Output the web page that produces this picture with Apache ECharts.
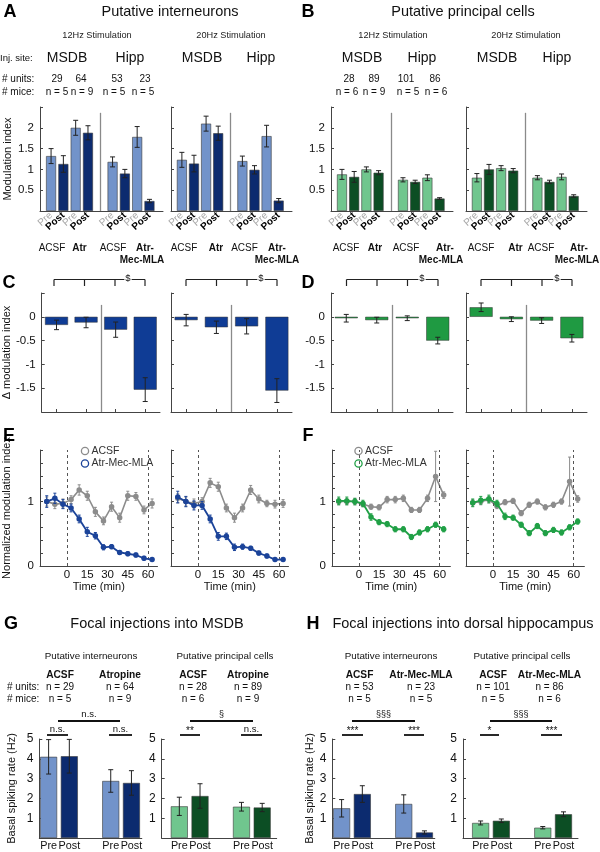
<!DOCTYPE html>
<html><head><meta charset="utf-8">
<script src="https://cdn.jsdelivr.net/npm/echarts@6/dist/echarts.min.js"></script>
<style>html,body{margin:0;padding:0;background:#fff}#c{width:600px;height:852px}</style>
</head><body><div id="c"></div>
<script>
// ===================== DATA =====================
// Panels A/B: modulation index (Pre / Post), groups: ACSF, Atr, ACSF, Atr-Mec-MLA
const barPosPre = [1, 3, 6, 8];
const barPosPost = [2, 4, 7, 9];
const modTicks = [0.5, 1, 1.5, 2];
const A12_pre = [1.32, 2.00, 1.18, 1.78];
const A12_preErr = [0.18, 0.18, 0.12, 0.25];
const A12_post = [1.13, 1.88, 0.90, 0.24];
const A12_postErr = [0.20, 0.17, 0.10, 0.04];
const A20_pre = [1.23, 2.10, 1.20, 1.80];
const A20_preErr = [0.18, 0.18, 0.12, 0.26];
const A20_post = [1.14, 1.87, 0.99, 0.25];
const A20_postErr = [0.20, 0.17, 0.10, 0.05];
const B12_pre = [0.88, 1.00, 0.75, 0.80];
const B12_preErr = [0.12, 0.06, 0.05, 0.07];
const B12_post = [0.82, 0.92, 0.70, 0.30];
const B12_postErr = [0.13, 0.05, 0.04, 0.02];
const B20_pre = [0.80, 1.03, 0.80, 0.82];
const B20_preErr = [0.10, 0.06, 0.05, 0.07];
const B20_post = [1.00, 0.97, 0.70, 0.36];
const B20_postErr = [0.12, 0.05, 0.04, 0.03];
const groupLabels = ['ACSF', 'Atr', 'ACSF', 'Atr-Mec-MLA'];
const injSites = ['MSDB', 'Hipp'];
const unitsA = [29, 64, 53, 23];
const miceA = [5, 9, 5, 5];
const unitsB = [28, 89, 101, 86];
const miceB = [6, 9, 5, 6];

// Panels C/D: delta modulation index
const deltaPos = [1, 2, 3, 4];
const deltaTicks = [0, -0.5, -1, -1.5];
const C12 = [-0.17, -0.12, -0.27, -1.53];
const C12Err = [0.10, 0.11, 0.16, 0.25];
const C20 = [-0.07, -0.22, -0.20, -1.55];
const C20Err = [0.12, 0.13, 0.16, 0.25];
const D12 = [-0.03, -0.07, -0.03, -0.50];
const D12Err = [0.08, 0.06, 0.05, 0.07];
const D20 = [0.20, -0.05, -0.08, -0.45];
const D20Err = [0.09, 0.05, 0.06, 0.08];

// Panels E/F: normalized modulation index time course
const timeMin = [-15, -9, -3, 3, 9, 15, 21, 27, 33, 39, 45, 51, 57, 63];
const timeTicks = [0, 15, 30, 45, 60];
const normTicks = [0, 1];
const E12_acsf = [1.00, 0.96, 0.97, 1.03, 1.18, 1.09, 0.84, 0.70, 0.92, 0.75, 1.09, 1.08, 0.87, 0.97];
const E12_acsfErr = [0.07, 0.07, 0.07, 0.06, 0.08, 0.07, 0.07, 0.06, 0.07, 0.07, 0.07, 0.06, 0.06, 0.07];
const E12_amm = [1.00, 1.05, 0.96, 0.90, 0.73, 0.53, 0.47, 0.29, 0.30, 0.21, 0.19, 0.17, 0.12, 0.10];
const E12_ammErr = [0.09, 0.08, 0.07, 0.06, 0.06, 0.07, 0.05, 0.04, 0.03, 0.03, 0.03, 0.03, 0.03, 0.02];
const E20_acsf = [1.05, 1.00, 0.97, 1.00, 1.29, 1.23, 0.90, 0.75, 0.90, 1.18, 1.04, 0.97, 0.96, 0.97];
const E20_acsfErr = [0.07, 0.07, 0.07, 0.06, 0.07, 0.07, 0.06, 0.07, 0.06, 0.07, 0.06, 0.05, 0.06, 0.06];
const E20_amm = [1.07, 1.00, 0.94, 0.94, 0.73, 0.46, 0.46, 0.29, 0.30, 0.275, 0.20, 0.155, 0.10, 0.10];
const E20_ammErr = [0.09, 0.08, 0.07, 0.06, 0.06, 0.06, 0.05, 0.05, 0.04, 0.03, 0.03, 0.03, 0.02, 0.02];
const F12_acsf = [1.00, 1.00, 1.00, 0.96, 0.92, 0.91, 1.03, 1.03, 1.05, 0.87, 0.87, 1.05, 1.39, 1.10];
const F12_acsfErr = [0.05, 0.05, 0.05, 0.04, 0.04, 0.04, 0.05, 0.05, 0.05, 0.04, 0.04, 0.05, 0.39, 0.05];
const F12_amm = [1.01, 1.01, 1.00, 0.97, 0.76, 0.68, 0.65, 0.57, 0.57, 0.45, 0.52, 0.57, 0.64, 0.57];
const F12_ammErr = [0.06, 0.06, 0.05, 0.05, 0.05, 0.04, 0.04, 0.04, 0.04, 0.04, 0.04, 0.04, 0.04, 0.04];
const F20_acsf = [0.98, 1.00, 1.03, 0.93, 0.99, 1.01, 0.82, 0.95, 1.00, 0.91, 0.95, 1.00, 1.31, 1.04];
const F20_acsfErr = [0.05, 0.05, 0.05, 0.04, 0.04, 0.04, 0.04, 0.04, 0.04, 0.04, 0.04, 0.04, 0.38, 0.05];
const F20_amm = [0.98, 1.02, 1.04, 0.97, 0.77, 0.75, 0.64, 0.51, 0.62, 0.51, 0.56, 0.52, 0.60, 0.69];
const F20_ammErr = [0.06, 0.06, 0.06, 0.05, 0.05, 0.04, 0.04, 0.04, 0.04, 0.04, 0.04, 0.04, 0.04, 0.04];

// Panels G/H: basal spiking rate (Hz)
const rateSlotPre = [1, 4];
const rateSlotPost = [2, 5];
const rateTicks = [1, 2, 3, 4, 5];
const G_int_pre = [4.10, 2.88], G_int_preErr = [0.87, 0.57];
const G_int_post = [4.13, 2.78], G_int_postErr = [0.85, 0.62];
const G_pc_pre = [1.60, 1.58], G_pc_preErr = [0.46, 0.22];
const G_pc_post = [2.12, 1.54], G_pc_postErr = [0.62, 0.21];
const H_int_pre = [1.50, 1.72], H_int_preErr = [0.44, 0.46];
const H_int_post = [2.22, 0.28], H_int_postErr = [0.42, 0.08];
const H_pc_pre = [0.76, 0.52], H_pc_preErr = [0.10, 0.06];
const H_pc_post = [0.87, 1.20], H_pc_postErr = [0.09, 0.12];
const G_groups = ['ACSF', 'Atropine', 'ACSF', 'Atropine'];
const G_units = [29, 64, 28, 89];
const G_mice = [5, 9, 6, 9];
const H_groups = ['ACSF', 'Atr-Mec-MLA', 'ACSF', 'Atr-Mec-MLA'];
const H_units = [53, 23, 101, 86];
const H_mice = [5, 5, 5, 6];

// ===================== STYLE =====================
const FAM = '"Liberation Sans", Arial, Helvetica, sans-serif';
const C_INT_PRE = '#7293CA', C_INT_POST = '#0C2B6F';
const C_PC_PRE = '#70C68E', C_PC_POST = '#0C4E24';
const C_D_INT = '#0F3C95', C_D_PC = '#1F9A42';
const C_L_INT = '#1B4399', C_L_PC = '#20A046', C_GRAY = '#8C8C8C';

const grid = [], xAxis = [], yAxis = [], series = [], G = [];
const axisLine = {show: true, onZero: false, lineStyle: {color: '#444', width: 1}};
const tickIn = {show: true, inside: true, length: 3, lineStyle: {color: '#444', width: 1}};
const lab = o => Object.assign({fontFamily: FAM, color: '#111', fontSize: 11}, o);

function panel(box, xa, ya) {
  const i = grid.length;
  grid.push({left: box[0], top: box[1], width: box[2], height: box[3]});
  xAxis.push(Object.assign({gridIndex: i, type: 'value', splitLine: {show: false}, axisLine}, xa));
  yAxis.push(Object.assign({gridIndex: i, type: 'value', splitLine: {show: false}, axisLine}, ya));
  return i;
}
function errSeries(i, xs, ys, es, color, cap, z) {
  return {
    type: 'custom', xAxisIndex: i, yAxisIndex: i, z: z || 4, silent: true, animation: false,
    data: xs.map((x, k) => [x, ys[k], es[k]]),
    encode: {x: 0, y: 1},
    renderItem: (p, api) => {
      const x = api.value(0), y = api.value(1), e = api.value(2);
      const a = api.coord([x, y + e]), b = api.coord([x, y - e]);
      const st = {stroke: color, lineWidth: 1};
      return {type: 'group', children: [
        {type: 'line', shape: {x1: a[0], y1: a[1], x2: b[0], y2: b[1]}, style: st},
        {type: 'line', shape: {x1: a[0] - cap, y1: a[1], x2: a[0] + cap, y2: a[1]}, style: st},
        {type: 'line', shape: {x1: b[0] - cap, y1: b[1], x2: b[0] + cap, y2: b[1]}, style: st}
      ]};
    }
  };
}
function divider(x, y0, y1) {
  return {silent: true, symbol: 'none', label: {show: false}, animation: false,
    lineStyle: {color: '#8a8a8a', width: 1.3, type: 'solid'},
    data: [[{coord: [x, y0]}, {coord: [x, y1]}]]};
}
function modPanel(box, pre, preErr, post, postErr, cols, showY, name) {
  const i = panel(box, {
    min: 0.1, max: 10.1, axisTick: {show: false},
    axisLabel: {customValues: barPosPre.concat(barPosPost), rotate: 42, margin: 3,
      formatter: v => barPosPre.indexOf(v) >= 0 ? '{pre|Pre}' : '{post|Post}',
      rich: {pre: lab({color: '#a8a8a8', fontSize: 10}), post: lab({fontWeight: 'bold', fontSize: 10, color: '#000'})}}
  }, {
    min: 0, max: 2.5, interval: 0.5, axisTick: tickIn,
    axisLabel: showY ? lab({customValues: modTicks, margin: 6, fontSize: 11.5}) : {show: false},
    name: name || '', nameLocation: 'middle', nameGap: 27, nameTextStyle: lab({fontSize: 11})
  });
  const data = [];
  barPosPre.forEach((x, k) => data.push({value: [x, pre[k]], itemStyle: {color: cols[0]}}));
  barPosPost.forEach((x, k) => data.push({value: [x, post[k]], itemStyle: {color: cols[1]}}));
  series.push({type: 'bar', xAxisIndex: i, yAxisIndex: i, data, barWidth: 10, animation: false,
    itemStyle: {borderColor: '#3a3a3a', borderWidth: 0.6}, markLine: divider(5, 2.36, 0)});
  series.push(errSeries(i, barPosPre, pre, preErr, '#222', 2.5));
  series.push(errSeries(i, barPosPost, post, postErr, '#222', 2.5));
}
function deltaPanel(box, vals, errs, color, showY, name) {
  const i = panel(box, {
    min: 0.5, max: 4.5, axisTick: Object.assign({customValues: deltaPos}, tickIn), axisLabel: {show: false}
  }, {
    min: -2, max: 0.5, interval: 0.5, axisTick: tickIn,
    axisLabel: showY ? lab({customValues: deltaTicks, margin: 6, fontSize: 11.5}) : {show: false},
    name: name || '', nameLocation: 'middle', nameGap: 27, nameTextStyle: lab({fontSize: 11})
  });
  series.push({type: 'bar', xAxisIndex: i, yAxisIndex: i, data: deltaPos.map((x, k) => [x, vals[k]]),
    barWidth: 23, animation: false, itemStyle: {color, borderColor: '#333', borderWidth: 0.5},
    markLine: divider(2.5, 0.25, -2)});
  series.push(errSeries(i, deltaPos, vals, errs, '#222', 2.5));
}
function timePanel(box, tmax, acsf, acsfErr, amm, ammErr, color, showY, name) {
  const i = panel(box, {
    min: -20, max: tmax, axisTick: {show: false},
    axisLabel: lab({customValues: timeTicks, margin: 3, fontSize: 11.5}),
    name: 'Time (min)', nameLocation: 'middle', nameGap: 15, nameTextStyle: lab({fontSize: 11})
  }, {
    min: 0, max: 1.8, interval: 0.2, axisTick: tickIn,
    axisLabel: showY ? lab({customValues: normTicks, margin: 6, fontSize: 11.5}) : {show: false},
    name: name || '', nameLocation: 'middle', nameGap: 28, nameTextStyle: lab({fontSize: 11})
  });
  series.push(errSeries(i, timeMin, acsf, acsfErr, C_GRAY, 1.5, 2));
  series.push({type: 'line', xAxisIndex: i, yAxisIndex: i, z: 3, animation: false,
    data: timeMin.map((t, k) => [t, acsf[k]]), symbol: 'circle', symbolSize: 5.5,
    lineStyle: {color: C_GRAY, width: 1.6}, itemStyle: {color: C_GRAY},
    markLine: {silent: true, symbol: 'none', label: {show: false}, animation: false,
      lineStyle: {color: '#555', type: [3, 3], width: 1}, data: [{xAxis: 0}, {xAxis: 60}]}});
  series.push(errSeries(i, timeMin, amm, ammErr, color, 1.5, 4));
  series.push({type: 'line', xAxisIndex: i, yAxisIndex: i, z: 5, animation: false,
    data: timeMin.map((t, k) => [t, amm[k]]), symbol: 'circle', symbolSize: 5.5,
    lineStyle: {color, width: 1.8}, itemStyle: {color}});
}
function ratePanel(box, xmin, xmax, pre, preErr, post, postErr, cols, name, gap) {
  const i = panel(box, {
    min: xmin, max: xmax, axisTick: {show: false},
    axisLabel: lab({customValues: rateSlotPre.concat(rateSlotPost), margin: 3, fontSize: 10.8,
      formatter: v => rateSlotPre.indexOf(v) >= 0 ? 'Pre' : 'Post'})
  }, {
    min: 0, max: 5, interval: 1, axisTick: tickIn,
    axisLabel: lab({customValues: rateTicks, margin: 6, fontSize: 12}),
    name: name || '', nameLocation: 'middle', nameGap: gap || 20, nameTextStyle: lab({fontSize: 11})
  });
  const data = [];
  rateSlotPre.forEach((x, k) => data.push({value: [x, pre[k]], itemStyle: {color: cols[0]}}));
  rateSlotPost.forEach((x, k) => data.push({value: [x, post[k]], itemStyle: {color: cols[1]}}));
  series.push({type: 'bar', xAxisIndex: i, yAxisIndex: i, data, barWidth: 17, animation: false,
    itemStyle: {borderColor: '#3a3a3a', borderWidth: 0.6}});
  series.push(errSeries(i, rateSlotPre, pre, preErr, '#222', 2.5));
  series.push(errSeries(i, rateSlotPost, post, postErr, '#222', 2.5));
}

// ===================== PANELS =====================
modPanel([40, 107, 123, 104], A12_pre, A12_preErr, A12_post, A12_postErr, [C_INT_PRE, C_INT_POST], true, 'Modulation index');
modPanel([171, 107, 121, 104], A20_pre, A20_preErr, A20_post, A20_postErr, [C_INT_PRE, C_INT_POST], false);
modPanel([331, 107, 122, 104], B12_pre, B12_preErr, B12_post, B12_postErr, [C_PC_PRE, C_PC_POST], true);
modPanel([466, 107, 121, 104], B20_pre, B20_preErr, B20_post, B20_postErr, [C_PC_PRE, C_PC_POST], false);

deltaPanel([39, 293, 121, 119], C12, C12Err, C_D_INT, true, 'Δ modulation index');
deltaPanel([171, 293, 121, 119], C20, C20Err, C_D_INT, false);
deltaPanel([331, 293, 122, 119], D12, D12Err, C_D_PC, true);
deltaPanel([466, 293, 121, 119], D20, D20Err, C_D_PC, false);

timePanel([40, 450, 117.5, 116], 67, E12_acsf, E12_acsfErr, E12_amm, E12_ammErr, C_L_INT, true, 'Normalized modulation index');
timePanel([171, 450, 117.5, 116], 67, E20_acsf, E20_acsfErr, E20_amm, E20_ammErr, C_L_INT, false);
timePanel([332, 450, 118.4, 116], 68, F12_acsf, F12_acsfErr, F12_amm, F12_ammErr, C_L_PC, true);
timePanel([466, 450, 118.4, 116], 68, F20_acsf, F20_acsfErr, F20_amm, F20_ammErr, C_L_PC, false);

ratePanel([39.3, 739, 102.5, 101], 0.55, 5.5, G_int_pre, G_int_preErr, G_int_post, G_int_postErr, [C_INT_PRE, C_INT_POST], 'Basal spiking rate (Hz)', 22);
ratePanel([161.7, 739, 115, 101], 0.15, 5.7, G_pc_pre, G_pc_preErr, G_pc_post, G_pc_postErr, [C_PC_PRE, C_PC_POST]);
ratePanel([332.3, 739, 102.5, 101], 0.55, 5.5, H_int_pre, H_int_preErr, H_int_post, H_int_postErr, [C_INT_PRE, C_INT_POST], 'Basal spiking rate (Hz)', 15);
ratePanel([463, 739, 115, 101], 0.15, 5.7, H_pc_pre, H_pc_preErr, H_pc_post, H_pc_postErr, [C_PC_PRE, C_PC_POST]);

// ===================== TEXT & DECORATION =====================
function T(text, x, y, size, opt) {
  opt = opt || {};
  const al = opt.align || 'center';
  G.push({type: 'text', x, y, silent: true, z: 50, style: {
    text, font: (opt.bold ? 'bold ' : '') + size + 'px ' + FAM, fill: opt.color || '#111',
    textAlign: al, align: al, textVerticalAlign: 'middle', verticalAlign: 'middle',
    backgroundColor: opt.bg, padding: opt.bg ? [0, 1] : 0}});
}
function L(points, w, color) {
  G.push({type: 'polyline', silent: true, z: 40, shape: {points}, style: {stroke: color || '#222', lineWidth: w || 1, fill: null}});
}
function C(cx, cy, color) {
  G.push({type: 'circle', silent: true, z: 40, shape: {cx, cy, r: 3.6}, style: {fill: null, stroke: color, lineWidth: 1.3}});
}

// Row A/B headers
T('A', 10, 12, 18, {bold: true, color: '#000'});
T('Putative interneurons', 170, 12, 14.5);
T('B', 308, 12, 18, {bold: true, color: '#000'});
T('Putative principal cells', 463, 12, 14.5);
T('12Hz Stimulation', 97, 35, 9.2, {color: '#222'});
T('20Hz Stimulation', 231, 35, 9.2, {color: '#222'});
T('12Hz Stimulation', 393, 35, 9.2, {color: '#222'});
T('20Hz Stimulation', 526, 35, 9.2, {color: '#222'});
T('Inj. site:', 0, 58, 9.5, {align: 'left'});
[[67, 0], [130, 1], [202, 0], [261, 1], [362, 0], [422, 1], [497, 0], [557, 1]].forEach(p => T(injSites[p[1]], p[0], 58, 14));
T('# units:', 2, 79, 10, {align: 'left'});
T('# mice:', 2, 92, 10, {align: 'left'});
[57, 81, 117, 145].forEach((x, k) => T(String(unitsA[k]), x, 79, 10));
[57, 82, 114, 143].forEach((x, k) => T('n = ' + miceA[k], x, 92, 10));
[349, 374, 406, 435].forEach((x, k) => T(String(unitsB[k]), x, 79, 10));
[347, 374, 408, 436].forEach((x, k) => T('n = ' + miceB[k], x, 92, 10));
// group labels under A/B
function groupRow(xs) {
  T(groupLabels[0], xs[0], 248, 10);
  T(groupLabels[1], xs[1], 248, 10, {bold: true});
  T(groupLabels[2], xs[2], 248, 10);
  T('Atr-', xs[3], 248, 10, {bold: true});
  T('Mec-MLA', xs[4], 260, 10, {bold: true});
}
groupRow([52, 79.5, 113, 145, 142]);
groupRow([184, 216, 244.5, 277, 277]);
groupRow([346, 375, 406, 445, 441]);
groupRow([481, 515.5, 541, 579, 577]);

// C/D labels and brackets
T('C', 9, 283, 18, {bold: true, color: '#000'});
T('D', 308, 283, 18, {bold: true, color: '#000'});
function bracket(xs, sx) {
  L([[xs[0], 279.5], [xs[3], 279.5]], 1.2);
  xs.forEach(x => L([[x, 279.5], [x, 286]], 1.2));
  T('$', sx, 278.5, 9.5, {bg: '#fff'});
}
bracket([54, 84.5, 115, 145], 128);
bracket([186, 216.5, 247, 277], 261);
bracket([346.5, 377, 407.5, 438], 422);
bracket([481, 511.5, 542, 572], 557);

// E/F labels and legends
T('E', 9, 436, 18, {bold: true, color: '#000'});
T('F', 308, 436, 18, {bold: true, color: '#000'});
C(85, 451, C_GRAY); T('ACSF', 91.5, 451, 10.5, {align: 'left', color: '#333'});
C(85, 463.5, C_L_INT); T('Atr-Mec-MLA', 91.5, 463.5, 10.5, {align: 'left', color: '#333'});
C(358.5, 451, C_GRAY); T('ACSF', 365, 451, 10.5, {align: 'left', color: '#333'});
C(358.5, 463.5, C_L_PC); T('Atr-Mec-MLA', 365, 463.5, 10.5, {align: 'left', color: '#333'});

// G/H
T('G', 11, 624, 18, {bold: true, color: '#000'});
T('Focal injections into MSDB', 157, 624, 14.5);
T('H', 313, 624, 18, {bold: true, color: '#000'});
T('Focal injections into dorsal hippocampus', 463, 624, 14.5);
T('Putative interneurons', 91, 656, 9.8);
T('Putative principal cells', 225, 656, 9.8);
T('Putative interneurons', 391, 656, 9.8);
T('Putative principal cells', 522, 656, 9.8);
T('# units:', 7, 687, 10, {align: 'left'});
T('# mice:', 7, 699, 10, {align: 'left'});
[60, 120, 193, 248].forEach((x, k) => {
  T(G_groups[k], x, 675, 10.2, {bold: true});
  T('n = ' + G_units[k], x, 687, 10);
  T('n = ' + G_mice[k], x, 699, 10);
});
[359.5, 421, 493, 549.5].forEach((x, k) => {
  T(H_groups[k], x, 675, 10.2, {bold: true});
  T('n = ' + H_units[k], x, 687, 10);
  T('n = ' + H_mice[k], x, 699, 10);
});
function sig(x0, x1, y, label, ty, size) {
  L([[x0, y], [x1, y]], 1.8, '#111');
  T(label, (x0 + x1) / 2, ty, size || 9.5);
}
sig(58, 120, 721, 'n.s.', 714.5);
sig(47, 68, 735, 'n.s.', 729);
sig(109, 132, 735, 'n.s.', 729);
sig(190, 253, 721, '§', 715, 9);
sig(180, 200, 735, '**', 731, 10);
sig(241, 262, 735, 'n.s.', 729);
sig(352, 415, 721, '§§§', 715, 9);
sig(342, 363, 735, '***', 731, 10);
sig(404, 424, 735, '***', 731, 10);
sig(490, 552, 721, '§§§', 715, 9);
sig(480, 499, 735, '*', 731, 10);
sig(541, 562, 735, '***', 731, 10);

// ===================== CHART =====================
const chart = echarts.init(document.getElementById('c'), null, {renderer: 'canvas', width: 600, height: 852});
chart.setOption({
  animation: false,
  backgroundColor: '#fff',
  textStyle: {fontFamily: FAM},
  grid, xAxis, yAxis, series,
  graphic: {elements: G}
});
</script></body></html>
